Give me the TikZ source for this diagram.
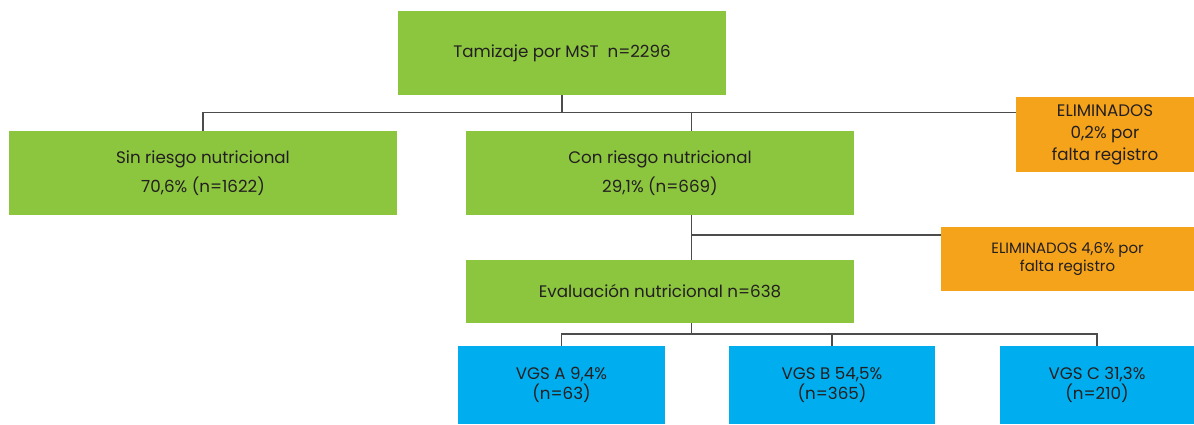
\documentclass[tikz,border=0pt]{standalone}
\usepackage{fontspec}
\setmainfont{Poppins}
\usepackage{tikz}
\definecolor{boxgreen}{HTML}{8CC63F}
\definecolor{boxorange}{HTML}{F5A31A}
\definecolor{boxblue}{HTML}{00AEEF}
\definecolor{textdark}{HTML}{231F20}

\begin{document}
\begin{tikzpicture}[
  box/.style={rectangle,inner sep=2pt,align=center,text=textdark,font=\fontsize{9.5}{12.5}\selectfont},
  greenbox/.style={box,fill=boxgreen},
  orangebox/.style={box,fill=boxorange},
  bluebox/.style={box,fill=boxblue,minimum height=1.56cm,font=\fontsize{9.5}{11}\selectfont},
  link/.style={draw=black!70,line width=0.8pt}]
\useasboundingbox (0,0) rectangle (23.88,8.48);
\node[greenbox,minimum width=6.56cm,minimum height=1.68cm] (tamizaje) at (11.24,7.42) {Tamizaje por MST~~n=2296};
\node[greenbox,minimum width=7.76cm,minimum height=1.68cm] (sinriesgo) at (4.06,5.02) {Sin riesgo nutricional\\[4pt]70,6\% (n=1622)};
\node[greenbox,minimum width=7.76cm,minimum height=1.68cm] (conriesgo) at (13.2,5.02) {Con riesgo nutricional\\[4pt]29,1\% (n=669)};
\node[orangebox,minimum width=3.56cm,minimum height=1.5cm] (elim1) at (22.1,5.79) {ELIMINADOS\\0,2\% por\\falta registro};
\node[greenbox,minimum width=7.76cm,minimum height=1.26cm] (evaluacion) at (13.2,2.65) {Evaluación nutricional n=638};
\node[orangebox,minimum width=5.06cm,minimum height=1.28cm,font=\fontsize{8.5}{10.8}\selectfont] (elim2) at (21.35,3.3) {ELIMINADOS 4,6\% por\\falta registro};
\node[bluebox,minimum width=4.14cm] (vgsa) at (11.23,0.78) {VGS A 9,4\%\\(n=63)};
\node[bluebox,minimum width=4.12cm] (vgsb) at (16.64,0.78) {VGS B 54,5\%\\(n=365)};
\node[bluebox,minimum width=3.88cm] (vgsc) at (21.94,0.78) {VGS C 31,3\%\\(n=210)};
\coordinate (stem) at (13.83,0);
\coordinate (bus1) at (0,6.23);
\coordinate (bus2) at (0,3.78);
\coordinate (bus3) at (0,1.8);
\draw[link] (tamizaje.south) -- (tamizaje.south |- bus1);
\draw[link] (sinriesgo.north) |- (elim1.west |- bus1);
\draw[link] (stem |- conriesgo.north) -- (stem |- bus1);
\draw[link] (stem |- conriesgo.south) -- (stem |- evaluacion.north);
\draw[link] (stem |- bus2) -- (elim2.west |- bus2);
\draw[link] (stem |- evaluacion.south) -- (stem |- bus3);
\draw[link] (vgsa.north) |- (vgsc.north |- bus3) -- (vgsc.north);
\draw[link] (vgsb.north) -- (vgsb.north |- bus3);
\end{tikzpicture}
\end{document}
